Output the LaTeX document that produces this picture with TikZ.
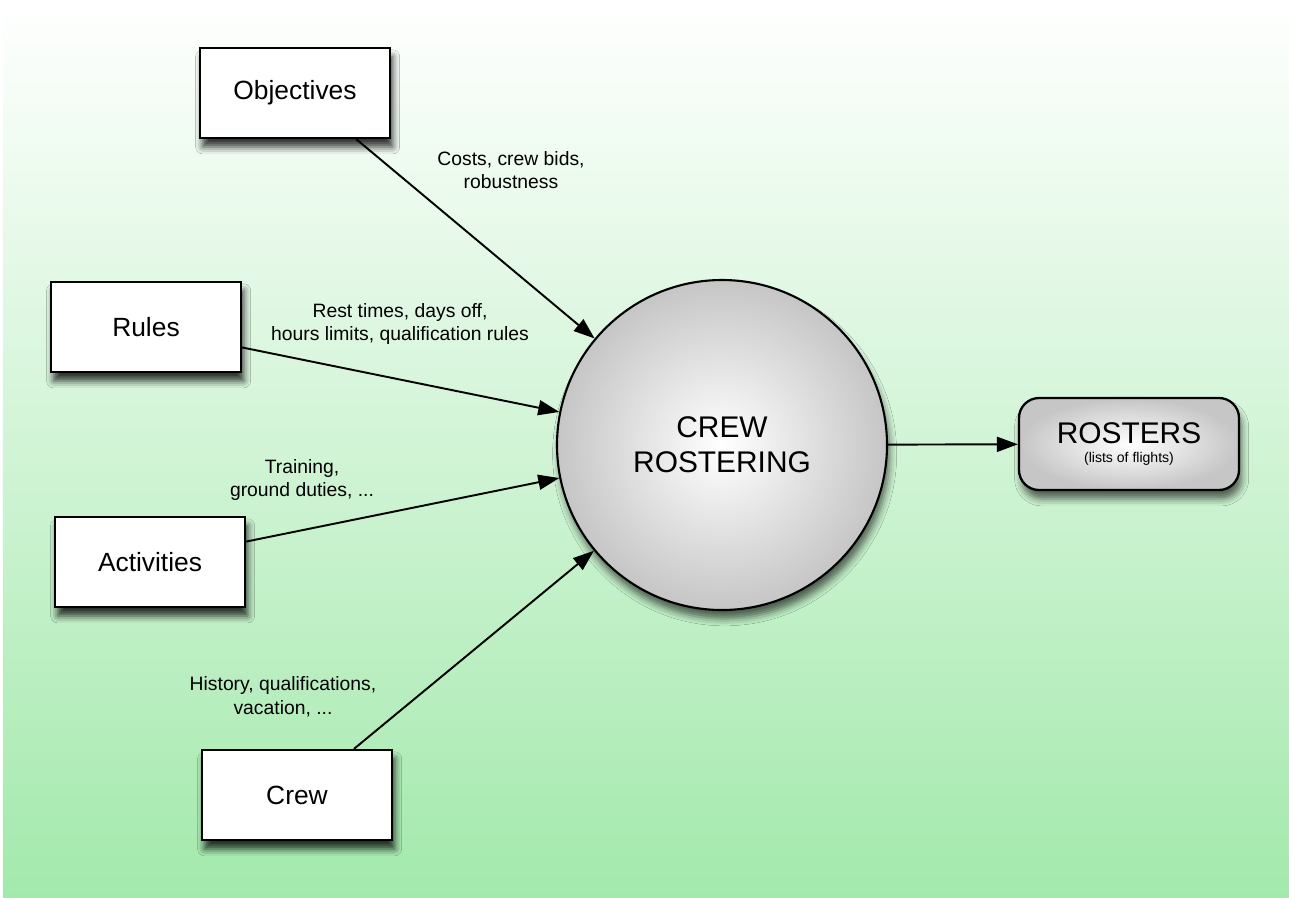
\documentclass[tikz,border=0pt]{standalone}
\usepackage{fontspec}
\setmainfont{Liberation Sans}
\usepackage{tikz}
\usetikzlibrary{arrows.meta,shadows.blur}
\definecolor{bggreen}{RGB}{163,233,172}
\tikzstyle{source} = [rectangle, minimum width=3.8cm, minimum height=1.8cm, text centered, draw=black, line width=1.3pt, fill=white, blur shadow={shadow xshift=1.5pt, shadow yshift=-5pt, shadow blur radius=4pt, shadow opacity=80}, font=\fontsize{15}{18}\selectfont]
\tikzstyle{core} = [circle, minimum size=6.6cm, text centered, draw=black, line width=1.2pt, inner color=white, outer color=gray!45, align=center, blur shadow={shadow xshift=1.5pt, shadow yshift=-5pt, shadow blur radius=4pt, shadow opacity=60}, font=\fontsize{17}{20}\selectfont]
\tikzstyle{result} = [rectangle, rounded corners=0.4cm, minimum width=4.4cm, minimum height=1.84cm, text centered, draw=black, line width=1.3pt, inner color=white, outer color=gray!45, align=center, blur shadow={shadow xshift=1.5pt, shadow yshift=-5pt, shadow blur radius=4pt, shadow opacity=60}]
\tikzstyle{note} = [align=center, font=\fontsize{11}{13.5}\selectfont]
\tikzstyle{arrow} = [line width=1.1pt, -{Triangle[length=0.42cm, width=0.3cm]}]

\begin{document}
\begin{tikzpicture}
\useasboundingbox (0,0) rectangle (25.78,-17.94);
\fill [top color=white, bottom color=bggreen] (0.06,0) rectangle (25.78,-17.94);

\node (obj) [source] at (5.9,-1.86) {Objectives};
\node (rules) [source] at (2.92,-6.54) {Rules};
\node (act) [source] at (3.0,-11.24) {Activities};
\node (crew) [source] at (5.94,-15.9) {Crew};
\node (roster) [core] at (14.44,-8.9) {CREW\\ROSTERING};
\node (out) [result] at (22.58,-8.88) {\fontsize{17}{20}\selectfont ROSTERS\\[-1pt]\fontsize{8}{10}\selectfont (lists of flights)};

\node (objnote) [note] at (10.22,-3.4) {Costs, crew bids,\\robustness};
\node (rulesnote) [note] at (8.0,-6.48) {Rest times, days off,\\hours limits, qualification rules};
\node (actnote) [note] at (6.04,-9.6) {Training,\\ground duties, ...};
\node (crewnote) [note] at (5.66,-13.94) {History, qualifications,\\vacation, ...};

\draw [arrow] (obj.-37) -- (roster);
\draw [arrow] (rules.-12) -- (roster);
\draw [arrow] (act.12) -- (roster);
\draw [arrow] (crew.39) -- (roster);
\draw [arrow] (roster) -- (out);

\end{tikzpicture}
\end{document}
